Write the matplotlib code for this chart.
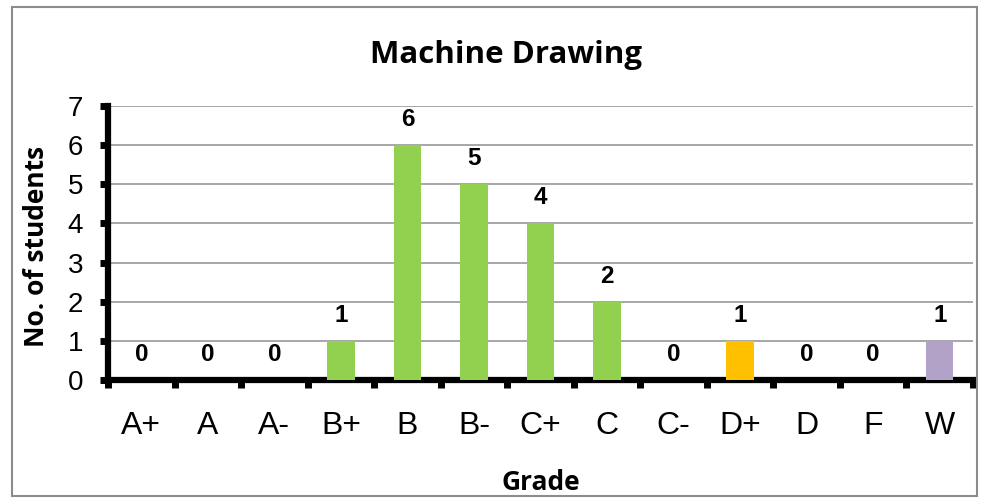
import matplotlib
matplotlib.use("Agg")
import matplotlib.pyplot as plt
from matplotlib.patches import Rectangle

grades = ["A+", "A", "A-", "B+", "B", "B-", "C+", "C", "C-", "D+", "D", "F", "W"]
counts = [0, 0, 0, 1, 6, 5, 4, 2, 0, 1, 0, 0, 1]
colors = ["#92D050"] * 9 + ["#FFC000", "#92D050", "#92D050", "#B3A2C7"]
title = "Machine Drawing"
xlabel = "Grade"
ylabel = "No. of students"

W, H = 989, 501
fig = plt.figure(figsize=(W / 100, H / 100), dpi=100)
fig.patches.append(Rectangle((12 / W, 1 - 496 / H), (977 - 12) / W, (496 - 7) / H,
                             transform=fig.transFigure, fill=False,
                             edgecolor="#8c8c8c", linewidth=1.5))

ax = fig.add_axes([108 / W, 1 - 380 / H, (973 - 108) / W, (380 - 106) / H])
x = list(range(len(grades)))
ax.bar(x, counts, width=0.41, color=colors, zorder=3)
for xi, c in zip(x, counts):
    ax.text(xi, c + 0.65, str(c), ha="center", va="center", fontsize=17.5,
            fontweight="bold", family="Liberation Sans")

ax.set_xlim(-0.5, len(grades) - 0.5)
ax.set_ylim(0, 7)
ax.set_yticks(range(8))
ax.set_yticklabels([str(i) for i in range(8)], family="Liberation Sans", fontsize=20)
ax.yaxis.grid(True, color="#a0a0a0", linewidth=1.3, zorder=0)
ax.set_axisbelow(True)

ax.set_xticks([i - 0.5 for i in range(len(grades) + 1)], minor=False)
ax.set_xticklabels([])
ax.set_xticks(x, minor=True)
ax.set_xticklabels(grades, minor=True, family="Liberation Sans", fontsize=23)
ax.tick_params(axis="x", which="minor", length=0, pad=22)
ax.tick_params(axis="x", which="major", length=6, width=5, direction="out")
ax.tick_params(axis="y", length=6, width=5, direction="out", pad=12)

for s in ["top", "right"]:
    ax.spines[s].set_visible(False)
for s in ["left", "bottom"]:
    ax.spines[s].set_linewidth(4.5)
    ax.spines[s].set_color("black")

fig.text(506 / W, 1 - 55 / H, title, ha="center", va="center", fontsize=22.5,
         fontweight="bold", family="Open Sans")
fig.text(541 / W, 1 - 483 / H, xlabel, ha="center", va="center", fontsize=19,
         fontweight="bold", family="Open Sans")
fig.text(37 / W, 1 - 246 / H, ylabel, ha="center", va="center", fontsize=19,
         fontweight="bold", family="Open Sans", rotation=90)

fig.savefig("out.png", dpi=100)
